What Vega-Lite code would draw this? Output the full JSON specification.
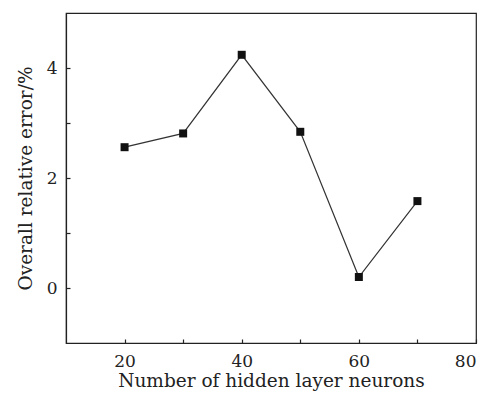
{
  "$schema": "https://vega.github.io/schema/vega-lite/v6.json",
  "autosize": "none",
  "width": 410,
  "height": 330,
  "padding": {"left": 66, "top": 13, "right": 11, "bottom": 51},
  "background": "white",
  "config": {
    "view": {"stroke": "#222", "strokeWidth": 1.2},
    "font": "DejaVu Serif",
    "axis": {
      "grid": false,
      "domainColor": "#222",
      "tickColor": "#222",
      "labelColor": "#222",
      "titleColor": "#222",
      "labelFont": "DejaVu Serif",
      "titleFont": "DejaVu Serif",
      "labelFontSize": 17,
      "titleFontSize": 18.5,
      "titleFontWeight": "normal",
      "tickSize": -4,
      "tickWidth": 1.2,
      "domainWidth": 1.2
    }
  },
  "data": {
    "values": [
      {"n": 20, "err": 2.56},
      {"n": 30, "err": 2.81},
      {"n": 40, "err": 4.24},
      {"n": 50, "err": 2.84},
      {"n": 60, "err": 0.2},
      {"n": 70, "err": 1.58}
    ]
  },
  "encoding": {
    "x": {
      "field": "n",
      "type": "quantitative",
      "scale": {"domain": [10, 80], "nice": false, "zero": false},
      "axis": {
        "title": "Number of hidden layer neurons",
        "values": [20, 30, 40, 50, 60, 70, 80],
        "labelExpr": "datum.value % 20 == 0 ? datum.label : ''",
        "labelPadding": 14,
        "titlePadding": 2
      }
    },
    "y": {
      "field": "err",
      "type": "quantitative",
      "scale": {"domain": [-1, 5], "nice": false, "zero": false},
      "axis": {
        "title": "Overall relative error/%",
        "values": [0, 1, 2, 3, 4],
        "labelExpr": "datum.value % 2 == 0 ? datum.label : ''",
        "labelPadding": 13,
        "titlePadding": 11
      }
    }
  },
  "layer": [
    {"mark": {"type": "line", "color": "#333", "strokeWidth": 1.2}},
    {"mark": {"type": "square", "color": "#111", "filled": true, "opacity": 1, "size": 64}}
  ]
}
